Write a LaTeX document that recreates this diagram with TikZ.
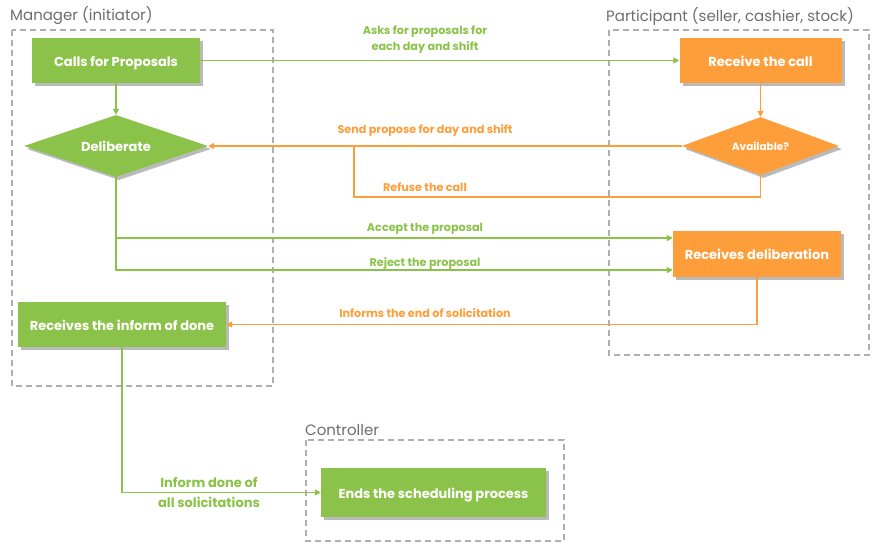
\documentclass[tikz,border=0pt]{standalone}
\usepackage{fontspec}
\setmainfont{Poppins}
\usetikzlibrary{shapes.geometric,shadows,arrows.meta,calc}
\definecolor{gr}{RGB}{139,195,74}
\definecolor{orn}{RGB}{253,158,58}
\definecolor{hd}{RGB}{110,110,110}
\definecolor{dsh}{RGB}{175,175,175}
\tikzset{
  boxg/.style={rectangle,fill=gr,text=white,font=\bfseries\fontsize{13}{15}\selectfont,inner sep=0pt,
    text height=11pt,text depth=0pt,
    drop shadow={shadow xshift=3pt,shadow yshift=-3pt,opacity=0.45,fill=black!60}},
  boxo/.style={boxg,fill=orn},
  dia/.style={diamond,inner sep=0pt,text=white,font=\bfseries\fontsize{13}{15}\selectfont,
    text height=11pt,text depth=0pt,
    drop shadow={shadow xshift=3pt,shadow yshift=-3pt,opacity=0.45,fill=black!60}},
  lane/.style={draw=dsh,line width=1.4pt,dash pattern=on 6pt off 4pt},
  head/.style={text=hd,font=\fontsize{15}{18}\selectfont,inner sep=0pt},
  lblg/.style={text=gr,font=\bfseries\fontsize{11.2}{16}\selectfont,align=center,inner sep=0pt},
  lblo/.style={lblg,text=orn},
  cg/.style={draw=gr,line width=1.6pt,-{Triangle[length=6pt,width=6pt]}},
  co/.style={cg,draw=orn},
}
\begin{document}
\begin{tikzpicture}[x=1pt,y=-1pt]
\useasboundingbox[fill=white] (0,0) rectangle (881,555);
% lanes
\draw[lane] (12,30) rectangle (273,386);
\draw[lane] (609,30) rectangle (869,355);
\draw[lane] (306,440) rectangle (564,541);
\node[head,anchor=west] (hm) at (10,16) {Manager (initiator)};
\node[head,anchor=west] (hp) at (606,16) {Participant (seller, cashier, stock)};
\node[head,anchor=west] (hc) at (305,430) {Controller};
% nodes
\node[boxg,minimum width=168pt,minimum height=45pt] (calls) at (116,60.5) {Calls for Proposals};
\node[boxo,minimum width=162pt,minimum height=45pt] (recv) at (760.5,60.5) {Receive the call};
\node[dia,fill=gr,shape aspect=2.97,minimum width=184pt,minimum height=62pt] (delib) at (116,146) {Deliberate};
\node[dia,fill=orn,shape aspect=2.7,minimum width=157pt,minimum height=58pt,font=\bfseries\fontsize{10.5}{12}\selectfont,text height=9pt] (avail) at (760.5,146) {Available?};
\node[boxo,minimum width=168pt,minimum height=46pt] (recdel) at (757,254) {Receives deliberation};
\node[boxg,minimum width=208pt,minimum height=45pt] (inform) at (122,324.5) {Receives the inform of done};
\node[boxg,minimum width=225pt,minimum height=49pt] (ends) at (433.5,492.5) {Ends the scheduling process};
% connectors
\draw[cg] (calls.south) -- (delib.north);
\draw[cg] (calls.east) -- (recv.west);
\draw[co] (recv.south) -- (avail.north);
\draw[co] (avail.west) -- (delib.east);
\coordinate (rf) at (354,197);
\draw[draw=orn,line width=1.6pt] (avail.south) |- (rf) -- (rf |- avail.west);
\draw[cg] (delib.south) |- ($(recdel.west)+(0,-16)$);
\draw[cg] (delib.south) |- ($(recdel.west)+(0,16)$);
\draw[co] (recdel.south) |- (inform.east);
\draw[cg] (inform.south) |- (ends.west);
% labels
\node[lblg] (l1) at (425,40) {Asks for proposals for\\each day and shift};
\node[lblo] (l2) at (425,130.5) {Send propose for day and shift};
\node[lblo] (l3) at (425,187.5) {Refuse the call};
\node[lblg] (l4) at (425,228.5) {Accept the proposal};
\node[lblg] (l5) at (425,263.5) {Reject the proposal};
\node[lblo] (l6) at (425,313.5) {Informs the end of solicitation};
\node[lblg,font=\bfseries\fontsize{13}{20}\selectfont] (l7) at (209,492) {Inform done of\\all solicitations};
\end{tikzpicture}
\end{document}
